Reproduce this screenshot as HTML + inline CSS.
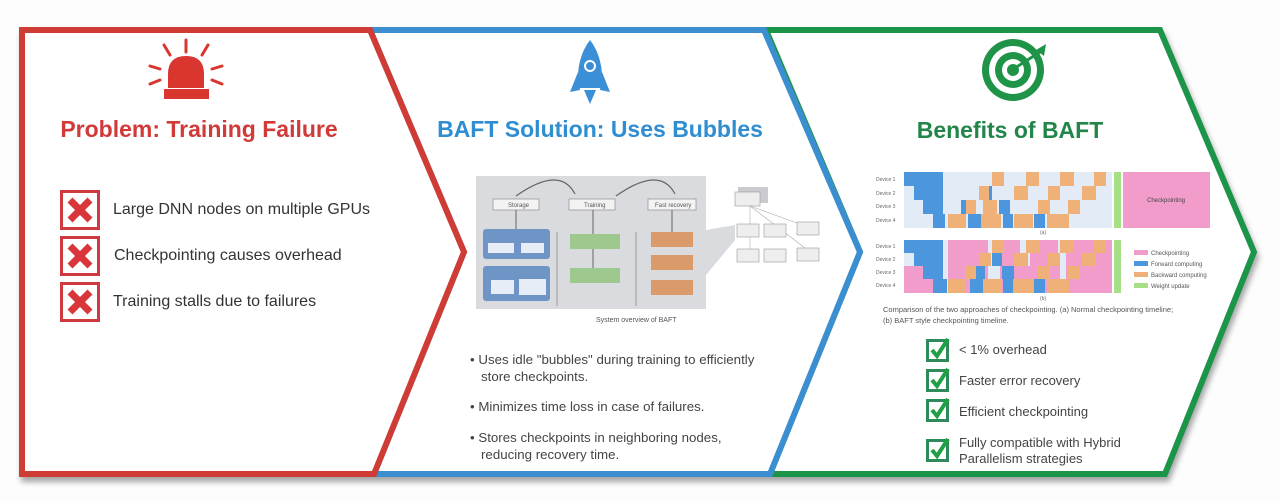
<!DOCTYPE html>
<html><head><meta charset="utf-8"><style>
html,body{margin:0;padding:0;background:#fff;}
svg{display:block;}
text{font-family:"Liberation Sans",sans-serif;}
</style></head><body>
<svg width="1280" height="502" viewBox="0 0 1280 502" xmlns="http://www.w3.org/2000/svg">
<defs>
<filter id="sh" x="-5%" y="-5%" width="110%" height="115%"><feDropShadow dx="2" dy="5" stdDeviation="3" flood-color="#000" flood-opacity="0.35"/></filter>
</defs>
<rect width="1280" height="502" fill="#fdfdfd"/>
<g filter="url(#sh)" fill="#fff" stroke-width="6" stroke-linejoin="miter">
<polygon points="1160,30 766,30 860,252 770,474 1165,474 1254,252" stroke="#1f9448"/>
<polygon points="764,30 370,30 464,252 374,474 770,474 860,252" stroke="#3a8fd0"/>
<polygon points="22,30 370,30 464,252 374,474 22,474" stroke="#cf3a36"/>
</g>

<g fill="#d8362f" stroke="#d8362f">
<path d="M168,88 L168,74 Q168,56 186,56 Q204,56 204,74 L204,88 Z" stroke="none"/>
<rect x="164" y="89" width="45" height="10" stroke="none"/>
<g stroke-width="3" stroke-linecap="round">
<line x1="186" y1="40" x2="186" y2="52"/>
<line x1="164" y1="45" x2="170" y2="55"/>
<line x1="208" y1="45" x2="202" y2="55"/>
<line x1="150" y1="66" x2="160" y2="69"/>
<line x1="222" y1="66" x2="212" y2="69"/>
<line x1="150" y1="84" x2="160" y2="80"/>
<line x1="222" y1="84" x2="212" y2="80"/>
</g></g>
<text x="199" y="137" text-anchor="middle" font-size="23" font-weight="bold" fill="#d13a38">Problem: Training Failure</text>

<g>
<g transform="translate(60,190)"><rect x="1.5" y="1.5" width="37" height="37" fill="#fff" stroke="#cf3a40" stroke-width="3"/><path d="M10,10 L30,30 M30,10 L10,30" stroke="#d8363a" stroke-width="7"/></g>
<g transform="translate(60,236)"><rect x="1.5" y="1.5" width="37" height="37" fill="#fff" stroke="#cf3a40" stroke-width="3"/><path d="M10,10 L30,30 M30,10 L10,30" stroke="#d8363a" stroke-width="7"/></g>
<g transform="translate(60,282)"><rect x="1.5" y="1.5" width="37" height="37" fill="#fff" stroke="#cf3a40" stroke-width="3"/><path d="M10,10 L30,30 M30,10 L10,30" stroke="#d8363a" stroke-width="7"/></g>
</g>
<g font-size="16" fill="#333">
<text x="113" y="214">Large DNN nodes on multiple GPUs</text>
<text x="114" y="260">Checkpointing causes overhead</text>
<text x="113" y="306">Training stalls due to failures</text>
</g>

<g fill="#3a8fd6">
<path d="M590,40 Q604,58 602,88 L578,88 Q576,58 590,40 Z"/>
<path d="M578,72 L570,92 L580,90 Z"/>
<path d="M602,72 L610,92 L600,90 Z"/>
<path d="M584,90 L596,90 L590,104 Z"/>
<circle cx="590" cy="66" r="5" fill="none" stroke="#fff" stroke-width="2"/>
</g>
<text x="600" y="137" text-anchor="middle" font-size="23" font-weight="bold" fill="#2f8ed2">BAFT Solution: Uses Bubbles</text>

<rect x="476" y="176" width="230" height="133" fill="#d9dbde"/>
<path d="M516,196 Q560,165 575,194" fill="none" stroke="#666" stroke-width="1.2"/>
<path d="M616,196 Q660,165 675,194" fill="none" stroke="#666" stroke-width="1.2"/>
<g fill="#f3f3f3" stroke="#999" stroke-width="0.8">
<rect x="493" y="199" width="46" height="11"/><rect x="569" y="199" width="46" height="11"/><rect x="648" y="199" width="48" height="11"/>
</g>
<g font-size="6" fill="#555"><text x="508" y="207">Storage</text><text x="584" y="207">Training</text><text x="655" y="207">Fast recovery</text></g>
<line x1="516" y1="210" x2="516" y2="229" stroke="#666"/><line x1="593" y1="210" x2="593" y2="234" stroke="#666"/><line x1="672" y1="210" x2="672" y2="232" stroke="#666"/>
<line x1="557" y1="232" x2="557" y2="306" stroke="#999"/><line x1="636" y1="232" x2="636" y2="306" stroke="#999"/>
<rect x="483" y="229" width="67" height="30" rx="3" fill="#6f95c6"/>
<rect x="483" y="266" width="67" height="35" rx="3" fill="#6f95c6"/>
<g fill="#e6edf6"><rect x="488" y="243" width="26" height="10"/><rect x="521" y="243" width="23" height="10"/><rect x="491" y="280" width="23" height="14"/><rect x="519" y="279" width="27" height="16"/></g>
<rect x="570" y="234" width="50" height="15" fill="#9dc88e"/>
<rect x="570" y="268" width="50" height="15" fill="#9dc88e"/>
<line x1="593" y1="249" x2="593" y2="268" stroke="#666"/>
<rect x="651" y="232" width="42" height="15" fill="#db9a6a"/>
<rect x="651" y="255" width="42" height="15" fill="#db9a6a"/>
<rect x="651" y="280" width="42" height="15" fill="#db9a6a"/>
<polygon points="706,230 735,225 735,240 706,275" fill="#d9dbde"/>
<rect x="738" y="187" width="30" height="16" fill="#c9cbce"/><rect x="735" y="192" width="25" height="14" fill="#eee" stroke="#999" stroke-width="0.6"/>
<g stroke="#aaa" stroke-width="0.6"><line x1="750" y1="206" x2="750" y2="252"/><line x1="750" y1="206" x2="805" y2="226"/><line x1="750" y1="206" x2="805" y2="248"/></g>
<g fill="#eee" stroke="#999" stroke-width="0.6">
<rect x="737" y="224" width="22" height="13"/><rect x="764" y="224" width="22" height="13"/><rect x="797" y="222" width="22" height="13"/>
<rect x="737" y="249" width="22" height="13"/><rect x="764" y="249" width="22" height="13"/><rect x="797" y="248" width="22" height="13"/>
</g>
<text x="596" y="322" font-size="7" fill="#555">System overview of BAFT</text>

<g font-size="13.3" fill="#444">
<text x="470" y="364">• Uses idle "bubbles" during training to efficiently</text>
<text x="481" y="381">store checkpoints.</text>
<text x="470" y="411">• Minimizes time loss in case of failures.</text>
<text x="470" y="442">• Stores checkpoints in neighboring nodes,</text>
<text x="481" y="459">reducing recovery time.</text>
</g>

<circle cx="1013" cy="70" r="31" fill="#1f9448"/>
<circle cx="1013" cy="70" r="24" fill="#fff"/>
<circle cx="1013" cy="70" r="18" fill="#1f9448"/>
<circle cx="1013" cy="70" r="11" fill="#fff"/>
<circle cx="1013" cy="70" r="6" fill="#1f9448"/>
<line x1="1015" y1="68" x2="1040" y2="52" stroke="#1f9448" stroke-width="3"/>
<path d="M1036,50 L1046,44 L1044,56 Z" fill="#1f9448"/>
<text x="1010" y="138" text-anchor="middle" font-size="23" font-weight="bold" fill="#22864a">Benefits of BAFT</text>

<g font-size="5" fill="#666"><text x="876" y="181">Device 1</text><text x="876" y="195">Device 2</text><text x="876" y="208">Device 3</text><text x="876" y="222">Device 4</text>
<text x="876" y="248">Device 1</text><text x="876" y="261">Device 2</text><text x="876" y="274">Device 3</text><text x="876" y="287">Device 4</text></g>
<rect x="904" y="172" width="208" height="56" fill="#e2ebf6"/>
<g fill="#4c96dd">
<rect x="904" y="172" width="39" height="14"/><rect x="914" y="186" width="29" height="14"/><rect x="923" y="200" width="20" height="14"/><rect x="933" y="214" width="12" height="14"/>
<rect x="982" y="186" width="10" height="14"/><rect x="961" y="200" width="10" height="14"/><rect x="999" y="200" width="11" height="14"/>
<rect x="968" y="214" width="13" height="14"/><rect x="1003" y="214" width="10" height="14"/><rect x="1034" y="214" width="11" height="14"/>
</g>
<g fill="#f0b179">
<rect x="992" y="172" width="12" height="14"/><rect x="1026" y="172" width="13" height="14"/><rect x="1060" y="172" width="14" height="14"/><rect x="1094" y="172" width="12" height="14"/>
<rect x="979" y="186" width="10" height="14"/><rect x="1014" y="186" width="14" height="14"/><rect x="1048" y="186" width="12" height="14"/><rect x="1082" y="186" width="14" height="14"/>
<rect x="966" y="200" width="10" height="14"/><rect x="1038" y="200" width="12" height="14"/><rect x="1068" y="200" width="12" height="14"/><rect x="983" y="200" width="14" height="14"/>
<rect x="948" y="214" width="18" height="14"/><rect x="981" y="214" width="20" height="14"/><rect x="1014" y="214" width="19" height="14"/><rect x="1047" y="214" width="22" height="14"/>
</g>
<rect x="1114" y="172" width="7" height="56" fill="#a6df86"/>
<rect x="1123" y="172" width="87" height="56" fill="#f29ccb"/>
<text x="1166" y="202" text-anchor="middle" font-size="6" fill="#444">Checkpointing</text>
<text x="1040" y="234" font-size="5" fill="#666">(a)</text>
<rect x="904" y="240" width="208" height="53" fill="#e2ebf6"/>
<g fill="#f29ccb">
<rect x="948" y="240" width="40" height="53"/><rect x="1000" y="240" width="20" height="53"/><rect x="1030" y="240" width="28" height="53"/><rect x="1066" y="240" width="46" height="53"/>
<rect x="904" y="266" width="19" height="27"/><rect x="904" y="279" width="30" height="14"/><rect x="1000" y="266" width="60" height="27"/>
</g>
<g fill="#4c96dd">
<rect x="904" y="240" width="39" height="13"/><rect x="914" y="253" width="29" height="13"/><rect x="923" y="266" width="20" height="13"/><rect x="933" y="279" width="14" height="14"/>
<rect x="992" y="253" width="10" height="13"/><rect x="975" y="266" width="10" height="13"/><rect x="1002" y="266" width="12" height="13"/>
<rect x="970" y="279" width="13" height="14"/><rect x="1003" y="279" width="10" height="14"/><rect x="1034" y="279" width="11" height="14"/>
</g>
<g fill="#f0b179">
<rect x="992" y="240" width="12" height="13"/><rect x="1026" y="240" width="13" height="13"/><rect x="1060" y="240" width="14" height="13"/><rect x="1094" y="240" width="12" height="13"/>
<rect x="979" y="253" width="12" height="13"/><rect x="1014" y="253" width="14" height="13"/><rect x="1048" y="253" width="12" height="13"/><rect x="1082" y="253" width="14" height="13"/>
<rect x="966" y="266" width="10" height="13"/><rect x="1038" y="266" width="12" height="13"/><rect x="1068" y="266" width="12" height="13"/>
<rect x="948" y="279" width="18" height="14"/><rect x="983" y="279" width="19" height="14"/><rect x="1014" y="279" width="19" height="14"/><rect x="1047" y="279" width="22" height="14"/>
</g>
<rect x="1114" y="240" width="7" height="53" fill="#a6df86"/>
<g font-size="6" fill="#555">
<rect x="1134" y="250" width="14" height="5" fill="#f29ccb"/><text x="1151" y="255">Checkpointing</text>
<rect x="1134" y="261" width="14" height="5" fill="#4c96dd"/><text x="1151" y="266">Forward computing</text>
<rect x="1134" y="272" width="14" height="5" fill="#f0b179"/><text x="1151" y="277">Backward computing</text>
<rect x="1134" y="283" width="14" height="5" fill="#a6df86"/><text x="1151" y="288">Weight update</text>
</g>
<text x="1040" y="300" font-size="5" fill="#666">(b)</text>
<g font-size="7.5" fill="#555"><text x="883" y="312">Comparison of the two approaches of checkpointing. (a) Normal checkpointing timeline;</text><text x="883" y="323">(b) BAFT style checkpointing timeline.</text></g>

<g>
<g transform="translate(926,337)"><rect x="1.5" y="3.5" width="20" height="20" fill="#fff" stroke="#2e8a5a" stroke-width="3"/><path d="M6,13 L11,19 L22,2" fill="none" stroke="#1fa046" stroke-width="4"/></g>
<g transform="translate(926,367)"><rect x="1.5" y="3.5" width="20" height="20" fill="#fff" stroke="#2e8a5a" stroke-width="3"/><path d="M6,13 L11,19 L22,2" fill="none" stroke="#1fa046" stroke-width="4"/></g>
<g transform="translate(926,397)"><rect x="1.5" y="3.5" width="20" height="20" fill="#fff" stroke="#2e8a5a" stroke-width="3"/><path d="M6,13 L11,19 L22,2" fill="none" stroke="#1fa046" stroke-width="4"/></g>
<g transform="translate(926,437)"><rect x="1.5" y="3.5" width="20" height="20" fill="#fff" stroke="#2e8a5a" stroke-width="3"/><path d="M6,13 L11,19 L22,2" fill="none" stroke="#1fa046" stroke-width="4"/></g>
</g>
<g font-size="13" fill="#444">
<text x="959" y="354">&lt; 1% overhead</text>
<text x="959" y="385">Faster error recovery</text>
<text x="959" y="416">Efficient checkpointing</text>
<text x="959" y="447">Fully compatible with Hybrid</text>
<text x="959" y="463">Parallelism strategies</text>
</g>
</svg>
</body></html>
